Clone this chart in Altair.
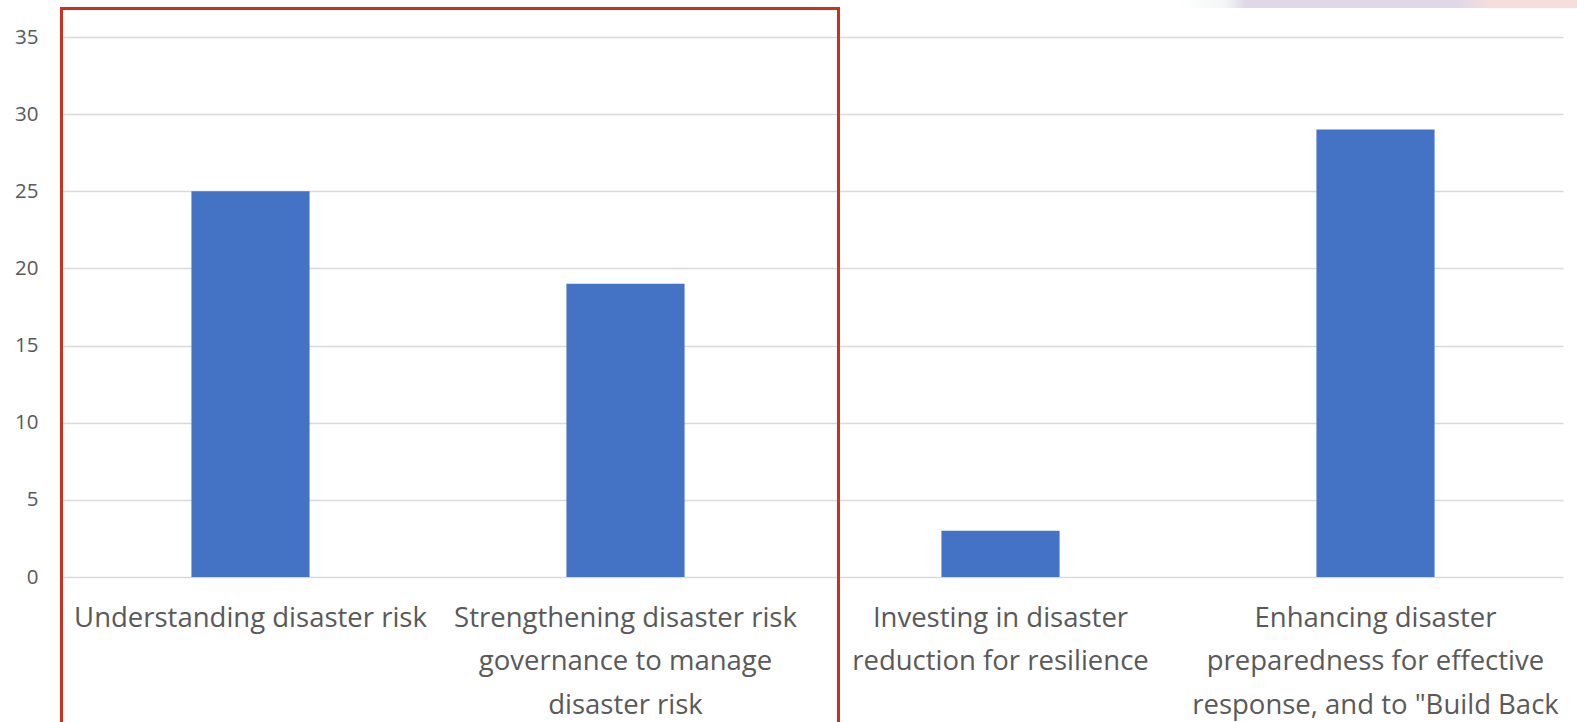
import altair as alt
import pandas as pd

categories = [
    "Understanding disaster risk",
    "Strengthening disaster risk|governance to manage|disaster risk",
    "Investing in disaster|reduction for resilience",
    "Enhancing disaster|preparedness for effective|response, and to \"Build Back",
]
values = [25, 19, 3, 29]

df = pd.DataFrame({"category": categories, "value": values})

FONT = "Open Sans"

bars = alt.Chart(df).mark_bar(color="#4472C4").encode(
    x=alt.X(
        "category:N",
        sort=categories,
        title=None,
        scale=alt.Scale(paddingInner=0.685, paddingOuter=0.3425),
        axis=alt.Axis(
            labelAngle=0,
            labelExpr="split(datum.label, '|')",
            labelFont=FONT,
            labelFontSize=27.5,
            labelColor="#595959",
            labelLineHeight=43.5,
            labelPadding=27,
            labelLimit=420,
            ticks=False,
            domain=False,
            grid=False,
        ),
    ),
    y=alt.Y(
        "value:Q",
        title=None,
        scale=alt.Scale(domain=[0, 35], nice=False),
        axis=alt.Axis(
            values=[0, 5, 10, 15, 20, 25, 30, 35],
            labelFont=FONT,
            labelFontSize=20.5,
            labelColor="#595959",
            labelPadding=25,
            ticks=False,
            domain=False,
            grid=True,
            gridColor="#D9D9D9",
            gridWidth=1.5,
        ),
    ),
)

box = alt.Chart(pd.DataFrame({"a": [0]})).mark_rect(
    fill=None, stroke="#C8321E", strokeWidth=3
).encode(
    x=alt.value(-1.5),
    x2=alt.value(775.5),
    y=alt.value(-28.5),
    y2=alt.value(720),
)

deco = alt.Chart(pd.DataFrame({"a": [0]})).mark_rect(
    fill={
        "gradient": "linear",
        "x1": 0, "y1": 0, "x2": 1, "y2": 0,
        "stops": [
            {"offset": 0.0, "color": "#FFFFFF"},
            {"offset": 0.12, "color": "#F2F6F6"},
            {"offset": 0.17, "color": "#E0D8E8"},
            {"offset": 0.7, "color": "#E0D8E8"},
            {"offset": 0.78, "color": "#F5DEDC"},
            {"offset": 1.0, "color": "#F5DEDC"},
        ],
    }
).encode(
    x=alt.value(1115),
    x2=alt.value(1514),
    y=alt.value(-37),
    y2=alt.value(-29),
)

chart = alt.layer(deco, bars, box).properties(
    width=1500,
    height=540,
    autosize=alt.AutoSizeParams(type="none"),
    padding={"left": 63, "top": 37, "right": 14, "bottom": 145},
    background="white",
).configure_view(stroke=None)

chart.save("out.html", embed_options={"renderer": "svg", "actions": False})
